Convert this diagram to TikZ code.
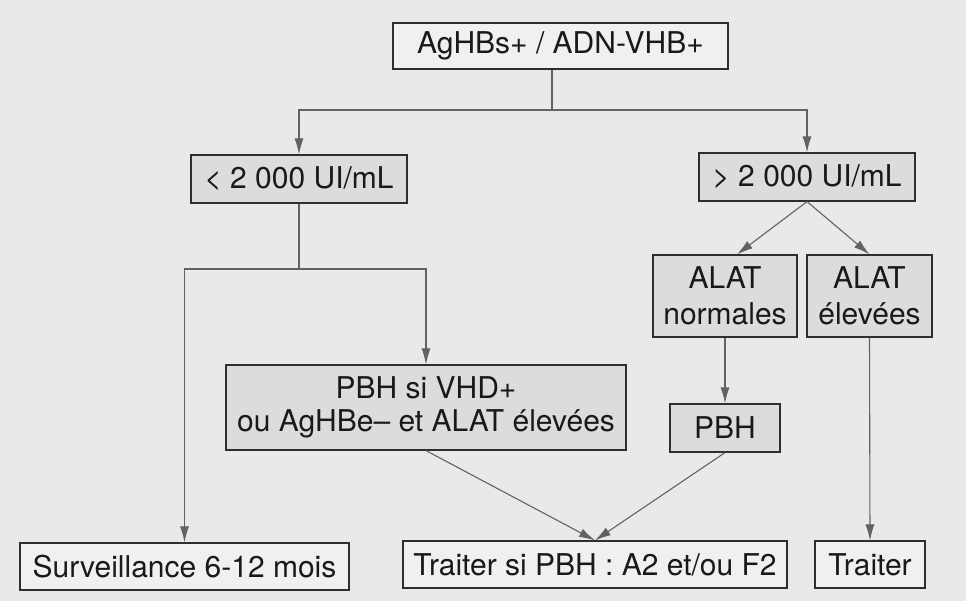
\documentclass[tikz,border=0pt]{standalone}
\usepackage{fontspec}
\setmainfont{TeX Gyre Heros}
\usetikzlibrary{arrows.meta,calc}
\definecolor{bg}{HTML}{E9E9E9}
\definecolor{boxgray}{HTML}{DCDCDC}
\definecolor{boxwhite}{HTML}{F0F0F0}
\definecolor{edgecol}{HTML}{2E2E2E}
\definecolor{linecol}{HTML}{626262}
\tikzset{
  base/.style={draw=edgecol, line width=1.2pt, inner sep=0pt, align=center,
    font=\fontsize{30}{35}\selectfont, text=black!90},
  graybox/.style={base, fill=boxgray},
  whitebox/.style={base, fill=boxwhite},
  conn/.style={draw=linecol, line width=1.1pt},
  arr/.style={conn, -{Latex[length=16pt,width=9pt]}},
}
\begin{document}
\begin{tikzpicture}[x=1pt,y=-1pt]
\fill[bg] (0,0) rectangle (966,601);
\useasboundingbox (0,0) rectangle (966,601);

\node[whitebox, minimum width=335pt, minimum height=46pt] (top) at (560.5,46) {AgHBs+ / ADN-VHB+};
\node[graybox, minimum width=216pt, minimum height=48pt] (lt) at (299,179) {< 2 000 UI/mL};
\node[graybox, minimum width=216pt, minimum height=48pt] (gt) at (807,177) {> 2 000 UI/mL};
\node[graybox, minimum width=144pt, minimum height=82pt, font=\fontsize{30}{36}\selectfont] (an) at (725,296) {ALAT\\normales};
\node[graybox, minimum width=125pt, minimum height=82pt, font=\fontsize{30}{36}\selectfont] (ae) at (869.5,296) {ALAT\\élevées};
\node[graybox, minimum width=400pt, minimum height=85pt, font=\fontsize{30}{33}\selectfont] (pbhsi) at (426,407.5) {PBH si VHD+\\ou AgHBe– et ALAT élevées};
\node[graybox, minimum width=110pt, minimum height=48pt] (pbh) at (725,428) {PBH};
\node[whitebox, minimum width=329pt, minimum height=47pt] (surv) at (184.5,566.5) {Surveillance 6-12 mois};
\node[whitebox, minimum width=384pt, minimum height=47pt] (traitsi) at (595,564.5) {Traiter si PBH : A2 et/ou F2};
\node[whitebox, minimum width=110pt, minimum height=47pt] (trait) at (870,564.5) {Traiter};

\coordinate (j1) at (552,110);
\coordinate (j2) at (299,269);

\draw[conn] (top.south -| j1) -- (j1);
\draw[arr] (j1) -| (lt.north);
\draw[arr] (j1) -| (gt.north);

\draw[conn] (lt.south) -- (j2);
\draw[arr] (j2) -| (surv.north);
\draw[arr] (j2) -| (pbhsi.north);

\draw[arr] (gt.south) -- ($(an.north)+(12,0)$);
\draw[arr] (gt.south) -- (ae.north);
\draw[arr] (an.south) -- (pbh.north);
\draw[arr] (ae.south) -- (trait.north);
\draw[arr] (pbhsi.south) -- (traitsi.north);
\draw[arr] (pbh.south) -- (traitsi.north);
\end{tikzpicture}
\end{document}
